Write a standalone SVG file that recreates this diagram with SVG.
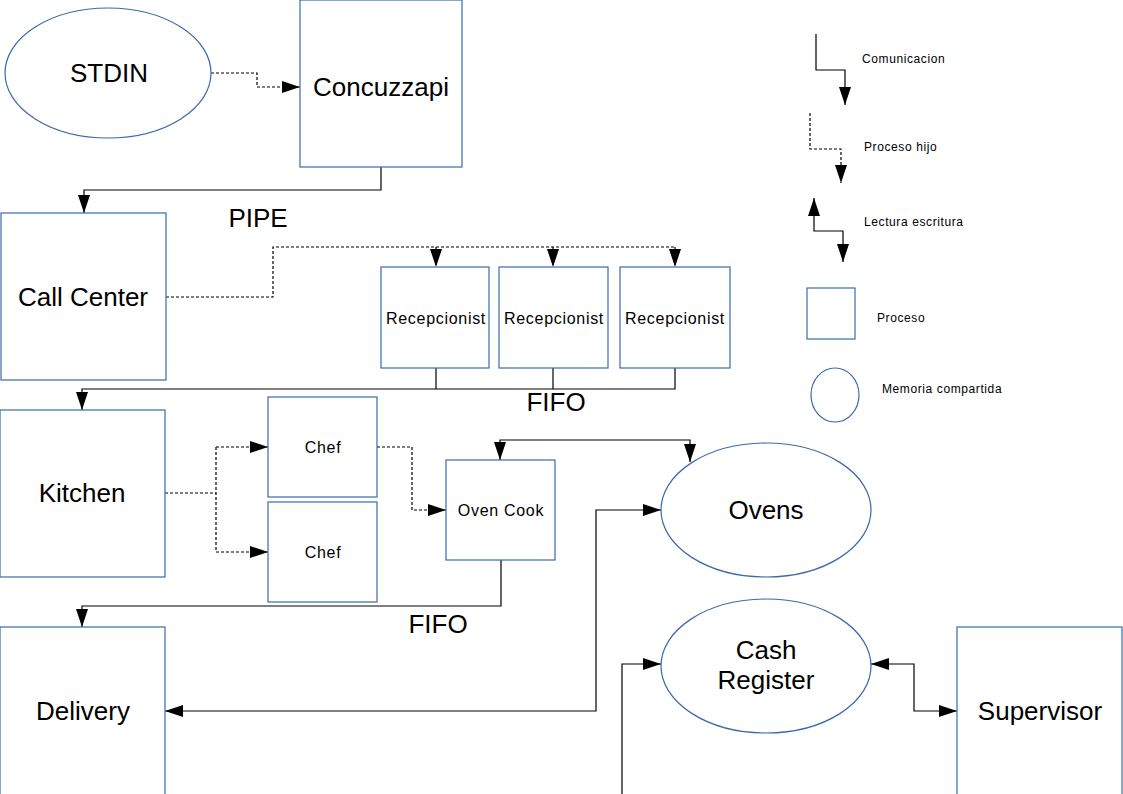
<svg xmlns="http://www.w3.org/2000/svg" width="1123" height="794" viewBox="0 0 1123 794">
<style>
.node{fill:#fff;stroke:#3a6aaa;stroke-width:1.2}
.c{fill:none;stroke:#000;stroke-width:1.2}
.d{fill:none;stroke:#000;stroke-width:1.2;stroke-dasharray:3 2}
.big{font-family:"Liberation Sans",Arial,sans-serif;font-size:26px;fill:#000;text-anchor:middle}
.mid{font-family:"Liberation Sans",Arial,sans-serif;font-size:16px;letter-spacing:0.7px;fill:#000;text-anchor:middle}
.sm{font-family:"Liberation Sans",Arial,sans-serif;font-size:12px;letter-spacing:0.6px;fill:#000}
</style>
<defs>
<marker id="a" markerUnits="userSpaceOnUse" markerWidth="18" markerHeight="12" refX="18" refY="6" orient="auto"><path d="M0,0 L18,6 L0,12 z" fill="#000"/></marker>
<marker id="s" markerUnits="userSpaceOnUse" markerWidth="18" markerHeight="12" refX="0" refY="6" orient="auto"><path d="M18,0 L0,6 L18,12 z" fill="#000"/></marker>
</defs>
<rect width="1123" height="794" fill="#fff"/>
<g id="connectors">
<path class="d" d="M211,73 H257 V87 H300" marker-end="url(#a)"/>
<path class="c" d="M381,167 V190 H84 V213" marker-end="url(#a)"/>
<path class="d" d="M166,297 H273 V247 H675"/>
<path class="d" d="M436,247 V267" marker-end="url(#a)"/>
<path class="d" d="M553,247 V267" marker-end="url(#a)"/>
<path class="d" d="M675,247 V267" marker-end="url(#a)"/>
<path class="c" d="M436,368 V389"/>
<path class="c" d="M553,368 V389"/>
<path class="c" d="M675,368 V389 H82 V410" marker-end="url(#a)"/>
<path class="d" d="M165,493 H216"/>
<path class="d" d="M216,447 V552"/>
<path class="d" d="M216,447 H268" marker-end="url(#a)"/>
<path class="d" d="M216,552 H268" marker-end="url(#a)"/>
<path class="d" d="M377,447 H412 V510 H446" marker-end="url(#a)"/>
<path class="c" d="M500,460 V440 H690 V462" marker-start="url(#s)" marker-end="url(#a)"/>
<path class="c" d="M501,560 V606 H82 V627" marker-end="url(#a)"/>
<path class="c" d="M165,711 H596 V510 H661" marker-start="url(#s)" marker-end="url(#a)"/>
<path class="c" d="M622,794 V664 H661" marker-end="url(#a)"/>
<path class="c" d="M871,664 H914 V711 H957" marker-start="url(#s)" marker-end="url(#a)"/>
</g>
<g id="labels">
<text class="big" x="258" y="227">PIPE</text>
<text class="big" x="556" y="411">FIFO</text>
<text class="big" x="438" y="633">FIFO</text>
</g>
<g id="stdin"><ellipse class="node" cx="108" cy="73" rx="103" ry="65"/><text class="big" x="109" y="82">STDIN</text></g>
<g id="concuzzapi"><rect class="node" x="300" y="0" width="162" height="167"/><text class="big" x="381" y="96">Concuzzapi</text></g>
<g id="callcenter"><rect class="node" x="1" y="213" width="165" height="167"/><text class="big" x="83" y="306">Call Center</text></g>
<g id="recep1"><rect class="node" x="381" y="267" width="108" height="101"/><text class="mid" x="436" y="324">Recepcionist</text></g>
<g id="recep2"><rect class="node" x="499" y="267" width="109" height="101"/><text class="mid" x="554" y="324">Recepcionist</text></g>
<g id="recep3"><rect class="node" x="620" y="267" width="110" height="101"/><text class="mid" x="675" y="324">Recepcionist</text></g>
<g id="kitchen"><rect class="node" x="0" y="410" width="165" height="167"/><text class="big" x="82" y="502">Kitchen</text></g>
<g id="chef1"><rect class="node" x="268" y="397" width="109" height="100"/><text class="mid" x="323" y="453">Chef</text></g>
<g id="chef2"><rect class="node" x="268" y="502" width="109" height="100"/><text class="mid" x="323" y="558">Chef</text></g>
<g id="ovencook"><rect class="node" x="446" y="460" width="109" height="100"/><text class="mid" x="501" y="516">Oven Cook</text></g>
<g id="ovens"><ellipse class="node" cx="766" cy="510" rx="105" ry="67"/><text class="big" x="766" y="519">Ovens</text></g>
<g id="cashregister"><ellipse class="node" cx="766" cy="666" rx="105" ry="67"/><text class="big" x="766" y="659">Cash</text><text class="big" x="766" y="689">Register</text></g>
<g id="delivery"><rect class="node" x="0" y="627" width="165" height="180"/><text class="big" x="83" y="720">Delivery</text></g>
<g id="supervisor"><rect class="node" x="957" y="627" width="165" height="180"/><text class="big" x="1040" y="720">Supervisor</text></g>
<g id="legend">
<path class="c" d="M816,34 V70 H845 V105" marker-end="url(#a)"/>
<text class="sm" x="862" y="63">Comunicacion</text>
<path class="d" d="M810,113 V149 H841 V183" marker-end="url(#a)"/>
<text class="sm" x="864" y="151">Proceso hijo</text>
<path class="c" d="M814,198 V231 H843 V262" marker-start="url(#s)" marker-end="url(#a)"/>
<text class="sm" x="864" y="226">Lectura escritura</text>
<rect class="node" x="807" y="288" width="48" height="51"/>
<text class="sm" x="877" y="322">Proceso</text>
<ellipse class="node" cx="835" cy="395" rx="24" ry="27"/>
<text class="sm" x="882" y="393">Memoria compartida</text>
</g>
</svg>
